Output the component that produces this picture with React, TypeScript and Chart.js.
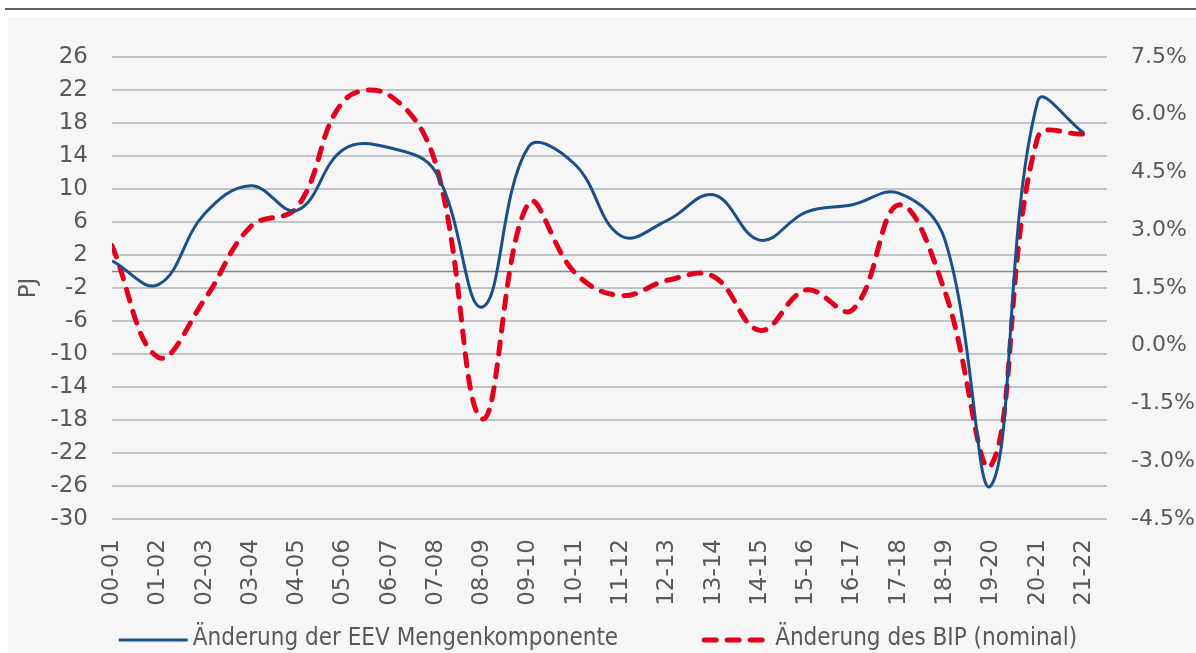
import React, { useEffect, useRef } from 'react';
import { Chart, registerables } from 'chart.js';

Chart.register(...registerables);

// ---- Data ----
const periods = [
  '00-01', '01-02', '02-03', '03-04', '04-05', '05-06', '06-07', '07-08',
  '08-09', '09-10', '10-11', '11-12', '12-13', '13-14', '14-15', '15-16',
  '16-17', '17-18', '18-19', '19-20', '20-21', '21-22',
];
// Änderung der EEV Mengenkomponente (PJ, left axis)
const eevChange = [
  1.3, -1.6, 7.0, 10.4, 7.4, 14.8, 15.0, 12.0,
  -4.3, 15.1, 13.0, 4.3, 6.2, 9.3, 3.8, 7.2,
  8.1, 9.5, 3.8, -25.9, 20.6, 16.8,
];
// Änderung des BIP (nominal) (%, right axis)
const gdpChange = [
  2.6, -0.3, 1.2, 3.1, 3.6, 6.35, 6.5, 4.7,
  -1.9, 3.7, 1.9, 1.3, 1.7, 1.8, 0.4, 1.45,
  0.93, 3.66, 1.4, -3.1, 5.4, 5.5,
];
const seriesLabels = ['Änderung der EEV Mengenkomponente', 'Änderung des BIP (nominal)'];
const leftAxisTitle = 'PJ';
const leftTicks = { min: -30, max: 26, step: 4 };
const rightTicks = { min: -4.5, max: 7.5, step: 1.5 };

// ---- Styles ----
const W = 1196;
const H = 653;
const TEXT = '#595959';
const TICK_FONT = { family: "'DejaVu Sans'", size: 23 };
const RIGHT_TICK_FONT = { family: "'DejaVu Sans'", size: 22 };
const LEGEND_FONT = "24px 'DejaVu Sans Condensed', 'DejaVu Sans'";

const zeroLinePlugin = {
  id: 'zeroLine',
  beforeDatasetsDraw(chart: any) {
    const { ctx, chartArea } = chart;
    const y = chart.scales.y.getPixelForValue(0);
    ctx.save();
    ctx.strokeStyle = '#85888b';
    ctx.lineWidth = 1.5;
    ctx.beginPath();
    ctx.moveTo(chartArea.left, y);
    ctx.lineTo(chartArea.right, y);
    ctx.stroke();
    ctx.restore();
  },
};

const legendPlugin = {
  id: 'lineLegend',
  afterDraw(chart: any) {
    const { ctx } = chart;
    ctx.save();
    ctx.font = LEGEND_FONT;
    const lineW = 69;
    const gap = 5;
    const itemGap = 83;
    const items = chart.data.datasets.map((ds: any) => ({ ds, w: ctx.measureText(ds.label).width }));
    const total = items.reduce((s: number, it: any) => s + lineW + gap + it.w, 0) + itemGap * (items.length - 1);
    let x = (chart.width - total) / 2;
    const y = 640;
    items.forEach(({ ds, w }: any) => {
      ctx.strokeStyle = ds.borderColor;
      ctx.lineWidth = ds.borderWidth;
      ctx.lineCap = ds.borderCapStyle || 'butt';
      ctx.setLineDash(ds.borderDash || []);
      ctx.beginPath();
      ctx.moveTo(x + (ds.borderDash ? 3 : 0), y);
      ctx.lineTo(x + lineW, y);
      ctx.stroke();
      ctx.setLineDash([]);
      ctx.fillStyle = TEXT;
      ctx.textAlign = 'left';
      ctx.textBaseline = 'middle';
      ctx.fillText(ds.label, x + lineW + gap, y - 1);
      x += lineW + gap + w + itemGap;
    });
    ctx.restore();
  },
};

export default function App() {
  const canvasRef = useRef<HTMLCanvasElement | null>(null);

  useEffect(() => {
    const canvas = canvasRef.current;
    if (!canvas) return;
    const chart = new Chart(canvas, {
      type: 'line',
      data: {
        datasets: [
          {
            label: seriesLabels[0],
            data: eevChange.map((v, i) => ({ x: i, y: v })),
            yAxisID: 'y',
            borderColor: '#1b4f8b',
            borderWidth: 3,
            pointRadius: 0,
            tension: 0.4,
            fill: false,
          },
          {
            label: seriesLabels[1],
            data: gdpChange.map((v, i) => ({ x: i, y: v })),
            yAxisID: 'y2',
            borderColor: '#e2001a',
            borderWidth: 5,
            borderDash: [12, 11],
            borderCapStyle: 'round',
            pointRadius: 0,
            tension: 0.4,
            fill: false,
          },
        ],
      },
      options: {
        responsive: false,
        animation: false,
        layout: { padding: { top: 57, bottom: 40, left: 0, right: 0 } },
        plugins: {
          legend: { display: false },
          tooltip: { enabled: false },
        },
        scales: {
          x: {
            type: 'linear',
            min: 0,
            max: periods.length - 0.5,
            grid: { display: false },
            border: { display: false },
            ticks: {
              stepSize: 1,
              includeBounds: false,
              autoSkip: false,
              minRotation: 90,
              maxRotation: 90,
              padding: 12,
              color: TEXT,
              font: TICK_FONT,
              callback: (v: any) => (Number.isInteger(v) ? periods[v] : ''),
            },
            afterFit: (s: any) => {
              s.height = H - 519 - 40;
            },
          },
          y: {
            type: 'linear',
            position: 'left',
            min: leftTicks.min,
            max: leftTicks.max,
            grid: { color: '#c0c3c7', lineWidth: 2, drawTicks: false },
            border: { display: false },
            ticks: {
              stepSize: leftTicks.step,
              padding: 24,
              color: TEXT,
              font: TICK_FONT,
              callback: (v: any) => String(v),
            },
            title: {
              display: true,
              text: leftAxisTitle,
              color: TEXT,
              font: TICK_FONT,
              padding: { top: 15, bottom: 0 },
            },
            afterFit: (s: any) => {
              s.width = 112;
            },
          },
          y2: {
            type: 'linear',
            position: 'right',
            min: rightTicks.min,
            max: rightTicks.max,
            grid: { display: false, drawTicks: false },
            border: { display: false },
            ticks: {
              stepSize: rightTicks.step,
              padding: 24,
              color: TEXT,
              font: RIGHT_TICK_FONT,
              callback: (v: any) => Number(v).toFixed(1) + '%',
            },
            afterFit: (s: any) => {
              s.width = 89;
            },
          },
        },
      } as any,
      plugins: [zeroLinePlugin, legendPlugin],
    });
    return () => chart.destroy();
  }, []);

  return (
    <div style={{ position: 'fixed', left: 0, top: 0, width: W, height: H, background: '#ffffff', overflow: 'hidden' }}>
      <div style={{ position: 'absolute', left: 5, right: 0, top: 7.5, height: 2, background: '#5f6469' }} />
      <div style={{ position: 'absolute', left: 8, right: 0, top: 17, bottom: 0, background: '#f6f6f6' }} />
      <canvas ref={canvasRef} width={W} height={H} style={{ position: 'absolute', left: 0, top: 0, width: W, height: H }} />
    </div>
  );
}
